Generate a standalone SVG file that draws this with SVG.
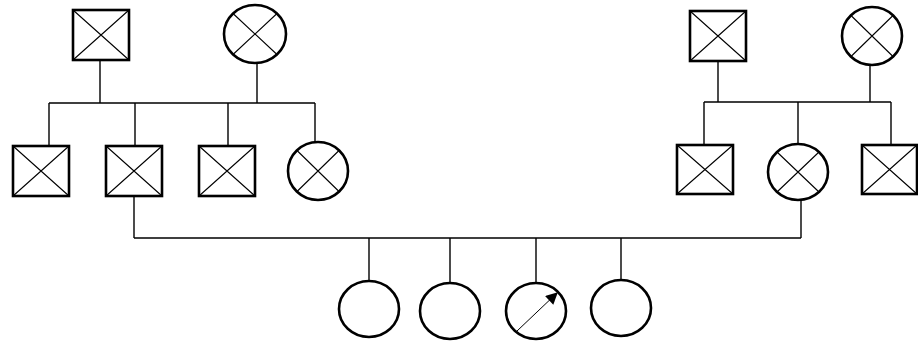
<svg xmlns="http://www.w3.org/2000/svg" width="918" height="341" viewBox="0 0 918 341">
<defs>
<marker id="ah" viewBox="0 0 10 10" refX="9" refY="5" markerWidth="14" markerHeight="12" markerUnits="userSpaceOnUse" orient="auto">
<path d="M0,0 L10,5 L0,10 z" fill="#000"/>
</marker>
<style>
.sh{fill:#fff;stroke:#000;stroke-width:2.6}
.x{stroke:#000;stroke-width:1.1;fill:none}
.c{stroke:#000;stroke-width:1.4;fill:none}
</style>
</defs>
<rect width="918" height="341" fill="#fff"/>
<g id="connectors">
<path class="c" d="M100,60V103M257,63V103M49,103H315M49,103V146M135,103V146M228,103V146M315,103V142"/>
<path class="c" d="M718,61V102M870,65V102M704,102H891M704,102V145M798,102V144M891,102V145"/>
<path class="c" d="M134,196V238M801,200V238M134,238H801M369,238V281M450,238V283M536,238V283M621,238V280"/>
</g>
<g id="gp1"><rect class="sh" x="73" y="10" width="56" height="50"/><path class="x" d="M73,10L129,60M129,10L73,60"/></g>
<g id="gm1"><ellipse class="sh" cx="255" cy="34" rx="31" ry="29"/><path class="x" d="M233,13.5L277,54.5M277,13.5L233,54.5"/></g>
<g id="c1"><rect class="sh" x="13" y="146" width="56" height="50"/><path class="x" d="M13,146L69,196M69,146L13,196"/></g>
<g id="c2"><rect class="sh" x="106" y="146" width="56" height="50"/><path class="x" d="M106,146L162,196M162,146L106,196"/></g>
<g id="c3"><rect class="sh" x="199" y="146" width="56" height="50"/><path class="x" d="M199,146L255,196M255,146L199,196"/></g>
<g id="c4"><ellipse class="sh" cx="318" cy="171" rx="30" ry="29"/><path class="x" d="M297,150.5L339,191.5M339,150.5L297,191.5"/></g>
<g id="gp2"><rect class="sh" x="690" y="11" width="56" height="50"/><path class="x" d="M690,11L746,61M746,11L690,61"/></g>
<g id="gm2"><ellipse class="sh" cx="872" cy="36" rx="30" ry="29"/><path class="x" d="M851,15.5L893,56.5M893,15.5L851,56.5"/></g>
<g id="d1"><rect class="sh" x="677" y="145" width="56" height="49"/><path class="x" d="M677,145L733,194M733,145L677,194"/></g>
<g id="d2"><ellipse class="sh" cx="798" cy="172" rx="30" ry="28"/><path class="x" d="M777,152L819,192M819,152L777,192"/></g>
<g id="d3"><rect class="sh" x="862" y="145" width="55" height="49"/><path class="x" d="M862,145L917,194M917,145L862,194"/></g>
<g id="k1"><ellipse class="sh" cx="369" cy="309" rx="30" ry="28"/></g>
<g id="k2"><ellipse class="sh" cx="450" cy="311" rx="30" ry="28"/></g>
<g id="k3"><ellipse class="sh" cx="536" cy="311" rx="30" ry="28"/><line x1="517" y1="331" x2="557" y2="293" stroke="#000" stroke-width="1" marker-end="url(#ah)"/></g>
<g id="k4"><ellipse class="sh" cx="621" cy="308" rx="30" ry="28"/></g>
</svg>
